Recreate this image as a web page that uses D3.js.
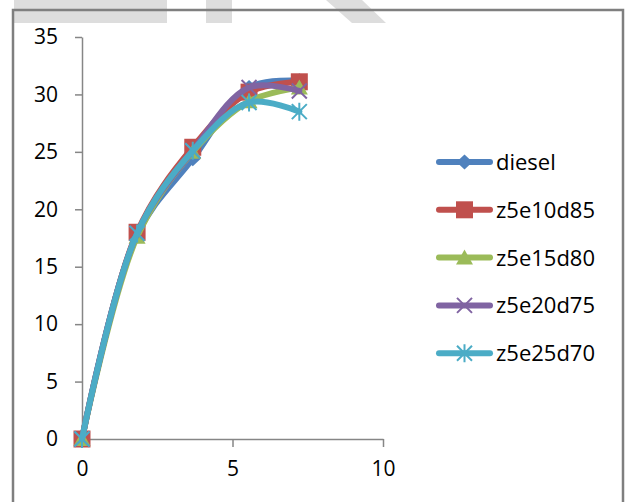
<!DOCTYPE html>
<html>
<head>
<meta charset="utf-8">
<script src="https://cdn.jsdelivr.net/npm/d3@7"></script>
<style>
  body { margin: 0; background: #fff; }
  svg { display: block; font-family: "Open Sans", "Liberation Sans", Arial, sans-serif; }
</style>
</head>
<body>
<svg id="chart" width="628" height="502"></svg>
<script>
const xValues = [0, 1.83, 3.68, 5.55, 7.22];
const seriesNames = ["diesel", "z5e10d85", "z5e15d80", "z5e20d75", "z5e25d70"];
const diesel   = [0, 17.8, 24.4, 30.6, 31.2];
const z5e10d85 = [0, 18.0, 25.4, 30.2, 31.1];
const z5e15d80 = [0, 17.6, 25.0, 29.4, 30.6];
const z5e20d75 = [0, 17.9, 25.1, 30.6, 30.3];
const z5e25d70 = [0, 17.9, 25.1, 29.3, 28.5];
const xTicks = [0, 5, 10];
const yTicks = [0, 5, 10, 15, 20, 25, 30, 35];

const seriesValues = [diesel, z5e10d85, z5e15d80, z5e20d75, z5e25d70];
const colors = ["#4F81BD", "#C0504D", "#9BBB59", "#8064A2", "#4BACC6"];
const shapes = ["diamond", "square", "triangle", "x", "star"];

const svg = d3.select("#chart");

// faint watermark at the top
const wm = svg.append("g").attr("fill", "#dddddd");
wm.append("rect").attr("x", 14).attr("y", 0).attr("width", 153).attr("height", 23);
wm.append("rect").attr("x", 206).attr("y", 0).attr("width", 26).attr("height", 23);
wm.append("polygon").attr("points", "326,0 362,0 386,23 352,23");

// outer frame
svg.append("rect")
    .attr("x", 13).attr("y", 10)
    .attr("width", 610).attr("height", 500)
    .attr("fill", "none")
    .attr("stroke", "#7f7f7f")
    .attr("stroke-width", 2.5);

const x = d3.scaleLinear().domain([0, 10]).range([82, 383]);
const y = d3.scaleLinear().domain([0, 35]).range([439, 37]);

const axisColor = "#868686";

const yAxis = svg.append("g")
    .attr("transform", `translate(${x(0)},0)`)
    .call(d3.axisLeft(y).tickValues(yTicks).tickSize(7).tickSizeOuter(0).tickPadding(17));
const xAxis = svg.append("g")
    .attr("transform", `translate(0,${y(0)})`)
    .call(d3.axisBottom(x).tickValues(xTicks).tickSize(8).tickSizeOuter(0).tickPadding(14));

[xAxis, yAxis].forEach(g => {
  g.select(".domain").attr("stroke", axisColor).attr("stroke-width", 1.5);
  g.selectAll(".tick line").attr("stroke", axisColor).attr("stroke-width", 1.5);
  g.selectAll(".tick text")
    .attr("fill", "#000")
    .style("font-size", "21px")
    .style("font-family", "'Open Sans', 'Liberation Sans', Arial, sans-serif");
});

function drawMarker(g, shape, color, cx, cy) {
  if (shape === "diamond") {
    g.append("path")
      .attr("d", `M${cx},${cy - 7.5}L${cx + 8},${cy}L${cx},${cy + 7.5}L${cx - 8},${cy}Z`)
      .attr("fill", color);
  } else if (shape === "square") {
    g.append("rect")
      .attr("x", cx - 8.5).attr("y", cy - 8.5)
      .attr("width", 17).attr("height", 17)
      .attr("fill", color);
  } else if (shape === "triangle") {
    g.append("path")
      .attr("d", `M${cx},${cy - 8}L${cx + 8.5},${cy + 7}L${cx - 8.5},${cy + 7}Z`)
      .attr("fill", color);
  } else if (shape === "x") {
    g.append("path")
      .attr("d", `M${cx - 7.5},${cy - 7.5}L${cx + 7.5},${cy + 7.5}M${cx + 7.5},${cy - 7.5}L${cx - 7.5},${cy + 7.5}`)
      .attr("stroke", color).attr("stroke-width", 2).attr("fill", "none");
  } else {
    g.append("path")
      .attr("d", `M${cx - 7.5},${cy - 7.5}L${cx + 7.5},${cy + 7.5}M${cx + 7.5},${cy - 7.5}L${cx - 7.5},${cy + 7.5}M${cx},${cy - 9}L${cx},${cy + 9}`)
      .attr("stroke", color).attr("stroke-width", 2).attr("fill", "none");
  }
}

const line = d3.line()
    .x(d => x(d[0]))
    .y(d => y(d[1]))
    .curve(d3.curveCatmullRom.alpha(0.5));

seriesValues.forEach((vals, i) => {
  const pts = xValues.map((xv, j) => [xv, vals[j]]);
  const g = svg.append("g");
  g.append("path")
    .attr("d", line(pts))
    .attr("fill", "none")
    .attr("stroke", colors[i])
    .attr("stroke-width", 6)
    .attr("stroke-linecap", "round")
    .attr("stroke-linejoin", "round");
  pts.forEach(p => drawMarker(g, shapes[i], colors[i], x(p[0]), y(p[1])));
});

// legend
const legend = svg.append("g");
seriesNames.forEach((name, i) => {
  const ly = 162 + i * 47.8;
  const g = legend.append("g");
  g.append("line")
    .attr("x1", 439).attr("x2", 490)
    .attr("y1", ly).attr("y2", ly)
    .attr("stroke", colors[i])
    .attr("stroke-width", 6)
    .attr("stroke-linecap", "round");
  drawMarker(g, shapes[i], colors[i], 464.5, ly);
  g.append("text")
    .attr("x", 496).attr("y", ly + 8)
    .style("font-size", "22px")
    .attr("fill", "#000")
    .text(name);
});
</script>
</body>
</html>
